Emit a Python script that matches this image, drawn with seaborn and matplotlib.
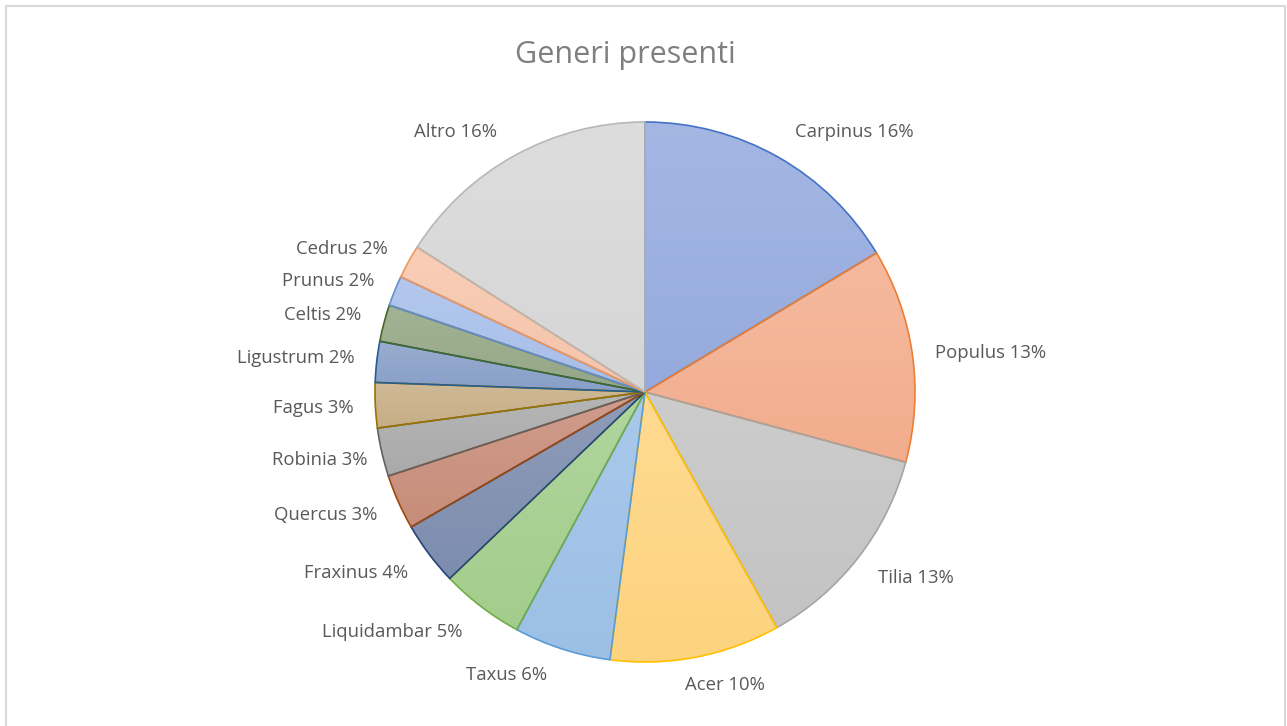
import matplotlib
matplotlib.use("Agg")
import matplotlib.pyplot as plt
import seaborn as sns
import numpy as np
from matplotlib.patches import Rectangle
from matplotlib.colors import to_rgb

sns.set_theme(style="white")
plt.rcParams['font.family'] = ['Open Sans', 'DejaVu Sans']

# ---- data ----
generi = ["Carpinus", "Populus", "Tilia", "Acer", "Taxus", "Liquidambar", "Fraxinus",
          "Quercus", "Robinia", "Fagus", "Ligustrum", "Celtis", "Prunus", "Cedrus", "Altro"]
quote = [16.4, 12.8, 12.7, 10.2, 5.8, 5.0, 3.8, 3.3, 2.9, 2.7, 2.45, 2.2, 1.8, 2.0, 16.0]
titolo = "Generi presenti"

# ---- style ----
fills = ["#97ACDF", "#F4AF8F", "#C5C5C5", "#FFD580", "#9DC1E8", "#A5CF8E", "#7E8EAF",
         "#C98E7B", "#ABABAB", "#C8AF87", "#8AA0C9", "#95A886", "#A9C0EB", "#F8C6AC", "#D8D8D8"]
edges = ["#4472C4", "#ED7D31", "#A5A5A5", "#FFC000", "#5B9BD5", "#70AD47", "#264478",
         "#9E480E", "#636363", "#997300", "#255E91", "#43682B", "#698ED0", "#F1975A", "#B7B7B7"]
# label centres in pixel coordinates (layout)
label_px = [(854, 132), (991, 353), (916, 578), (725, 685), (507, 675), (392, 632),
            (356, 573), (326, 515), (320, 460), (313, 408), (296, 358), (323, 315),
            (328, 281), (342, 249), (456, 132)]

W, H = 1287, 726
fig = plt.figure(figsize=(W / 100, H / 100), dpi=100)
fig.patch.set_facecolor("white")
ax = fig.add_axes([0, 0, 1, 1])

cx, cy, R = 645, H - 392, 270
wedges, _ = ax.pie(quote, colors=fills, startangle=90, counterclock=False,
                   center=(cx, cy), radius=R, frame=True,
                   wedgeprops=dict(linewidth=1.2, antialiased=True))


def mix(c, t, a):
    c, t = np.array(to_rgb(c)), np.array(to_rgb(t))
    return c * (1 - a) + t * a


for w, fc, ec in zip(wedges, fills, edges):
    v = w.get_path().vertices
    x0, x1 = v[:, 0].min(), v[:, 0].max()
    y0, y1 = v[:, 1].min(), v[:, 1].max()
    top = mix(fc, "white", 0.13)
    bot = mix(fc, "black", 0.01)
    t = np.linspace(0, 1, 256)[:, None]
    grad = top[None, :] * (1 - t) + bot[None, :] * t
    img = np.repeat(grad[:, None, :], 2, axis=1)
    im = ax.imshow(img, extent=(x0, x1, y0, y1), origin="upper", aspect="auto",
                   interpolation="bilinear", zorder=1.5)
    im.set_clip_path(w)
    w.set_facecolor("none")
    w.set_edgecolor(ec)
    w.set_zorder(2)

tot = sum(quote)
for name, q, (px, py) in zip(generi, quote, label_px):
    ax.text(px, H - py, f"{name} {round(q / tot * 100)}%", ha="center", va="center",
            fontsize=13.3, color="#595959")

ax.text(W / 2 - 18, H - 55, titolo, ha="center", va="center", fontsize=22, color="#7F7F7F")

ax.set_xlim(0, W)
ax.set_ylim(0, H)
ax.set_aspect("equal")
ax.axis("off")

fig.add_artist(Rectangle((6 / W, -0.01), (1285 - 6) / W, (H - 6) / H + 0.01,
                         transform=fig.transFigure, fill=False,
                         edgecolor="#D9D9D9", linewidth=1.5))

fig.savefig("out.png", dpi=100, facecolor="white")
